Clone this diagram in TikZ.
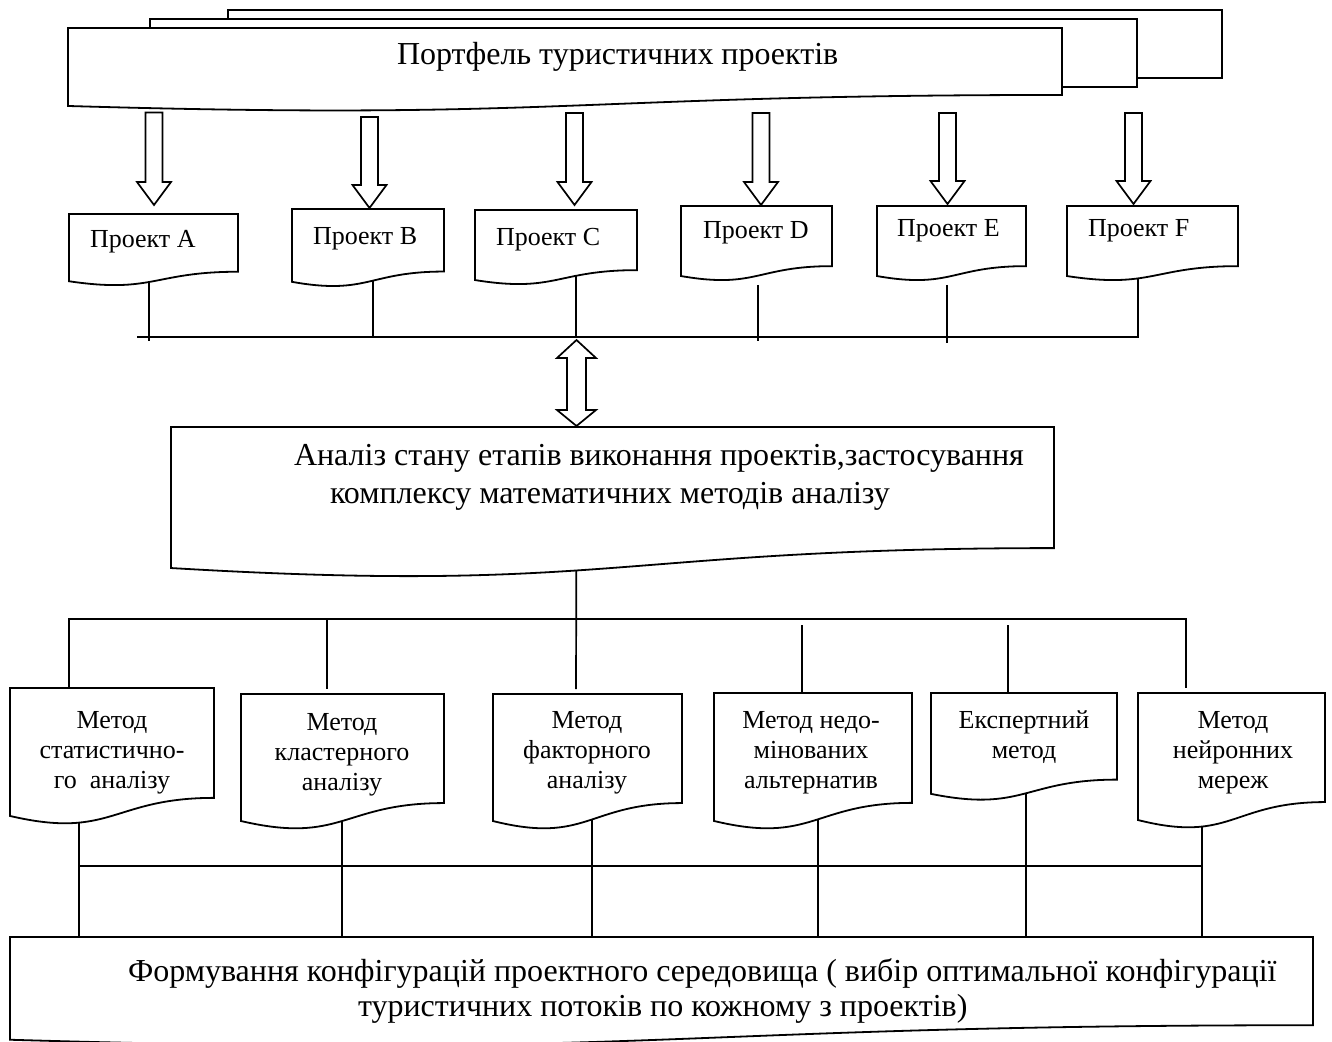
\documentclass[tikz,border=0pt]{standalone}
\usepackage{fontspec}
\setmainfont{Liberation Serif}
\usetikzlibrary{calc}

\tikzset{
  frame/.style={draw=none, inner sep=0pt, outer sep=0pt},
  outline/.style={draw=black, line width=0.9pt, fill=white, line join=miter},
  wire/.style={draw=black, line width=0.85pt},
  hollow/.style={draw=black, line width=0.85pt, fill=white, line join=miter},
  lbl/.style={inner sep=0pt, outer sep=0pt, font=\fontsize{13}{15}\selectfont},
  biglbl/.style={inner sep=0pt, outer sep=0pt, anchor=base west, font=\fontsize{16}{18.4}\selectfont},
  projlbl/.style={lbl, anchor=base west},
  methodlbl/.style={lbl, align=center, anchor=north},
}

% invisible frame node spanning the given corners (pixel units)
\newcommand\frameat[5]{%
  \node[frame, minimum width={(#4-#2)*0.5pt}, minimum height={(#5-#3)*0.5pt}]
    (#1) at ({(#2+#4)/2},{(#3+#5)/2}) {};}

% flowchart "document" outline with a wavy bottom edge
\newcommand\docoutline[1]{%
  \path[outline] let \p1=(#1.north west), \p2=(#1.south east) in
    (\x1,\y1) -- (\x2,\y1) -- (\x2,{\y1+0.802*(\y2-\y1)})
    .. controls ({0.5*(\x1+\x2)},{\y1+0.802*(\y2-\y1)})
            and ({0.5*(\x1+\x2)},{\y1+1.108*(\y2-\y1)}) ..
    (\x1,{\y1+0.934*(\y2-\y1)}) -- cycle;}

\newcommand\rectoutline[1]{\path[outline] (#1.north west) rectangle (#1.south east);}

% hollow block arrow pointing down: #1 tail, #2 tip
\newcommand\hollowdown[2]{%
  \path[hollow] let \p1=#1, \p2=#2 in
    ({\x2-4.25pt},\y1) -- ({\x2+4.25pt},\y1) -- ({\x2+4.25pt},{\y2+11.5pt})
    -- ({\x2+8.5pt},{\y2+11.5pt}) -- (\x2,\y2) -- ({\x2-8.5pt},{\y2+11.5pt})
    -- ({\x2-4.25pt},{\y2+11.5pt}) -- cycle;}

% hollow two-headed block arrow: #1 upper tip, #2 lower tip
\newcommand\hollowboth[2]{%
  \path[hollow] let \p1=#1, \p2=#2 in
    (\x1,\y1) -- ({\x1+9.75pt},{\y1-9pt}) -- ({\x1+4.75pt},{\y1-9pt})
    -- ({\x1+4.75pt},{\y2+8pt}) -- ({\x1+9.75pt},{\y2+8pt}) -- (\x1,\y2)
    -- ({\x1-9.75pt},{\y2+8pt}) -- ({\x1-4.75pt},{\y2+8pt})
    -- ({\x1-4.75pt},{\y1-9pt}) -- ({\x1-9.75pt},{\y1-9pt}) -- cycle;}

\begin{document}
\begin{tikzpicture}[x=0.5pt, y=-0.5pt]
\useasboundingbox (0,0) rectangle (1332,1042);
\clip (0,0) rectangle (1332,1042);

% ---- frames ----
\frameat{pfback}{228}{10}{1222}{78}
\frameat{pfmid}{150}{19}{1137}{87}
\frameat{pf}{68}{28}{1062}{111.5}

\frameat{pA}{69}{214}{238}{286}
\frameat{pB}{292}{209}{444}{287}
\frameat{pC}{475}{210}{637}{285}
\frameat{pD}{681}{206}{832}{281}
\frameat{pE}{877}{206}{1026}{281}
\frameat{pF}{1067}{206}{1238}{281}

\frameat{an}{171}{427}{1054}{578}

\frameat{m1}{10}{688}{214}{825}
\frameat{m2}{241}{694}{444}{830}
\frameat{m3}{493}{694}{682}{830}
\frameat{m4}{714}{693}{912}{830}
\frameat{m5}{931}{693}{1117}{801}
\frameat{m6}{1138}{693}{1325}{829}

\frameat{res}{10}{937}{1313}{1047}

% ---- bus ends ----
\coordinate (pbL) at (137,337);
\coordinate (mbL) at (69,619);
\coordinate (mbR) at (1186,619);
\coordinate (rbL) at (79,866);
\coordinate (rbR) at (1202,866);

% ---- connectors (box fills cover their inner parts) ----
\draw[wire] ($(pF.center)+(-14.5,0)$) |- (pbL);
\draw[wire] ($(pA.center)+(-4.5,0)$) -- ($(pA.center |- pbL)+(-4.5,4)$);
\draw[wire] ($(pB.center)+(5,0)$) -- ($(pB.center |- pbL)+(5,0)$);
\draw[wire] ($(pC.center)+(20,0)$) -- ($(pC.center |- pbL)+(20,0)$);
\draw[wire] ($(pD.south)+(1.5,4)$) -- ($(pD.south |- pbL)+(1.5,4)$);
\draw[wire] ($(pE.south)+(-4.5,4)$) -- ($(pE.south |- pbL)+(-4.5,6)$);

\draw[wire] (m1.north -| mbL) -- (mbL) -- (mbR) -- ($(m6.north -| mbR)+(0,-5)$);
\draw[wire] ($(m2.north |- mbL)+(-15.5,0)$) -- ($(m2.north)+(-15.5,-5)$);
\draw[wire] ($(an.center)+(-36,0)$) -- ($(m3.north)+(-11.5,-5)$);
\draw[wire] ($(m4.north |- mbL)+(-11,6)$) -- ($(m4.north)+(-11,0)$);
\draw[wire] ($(m5.north |- mbL)+(-16,6)$) -- ($(m5.north)+(-16,-1)$);

\draw[wire] (rbL) -- (rbR);
\draw[wire] ($(m1.center)+(-33,0)$) -- (res.north -| rbL);
\draw[wire] ($(m2.center)+(-0.5,0)$) -- ($(res.north -| m2.center)+(-0.5,0)$);
\draw[wire] ($(m3.center)+(4.5,0)$) -- ($(res.north -| m3.center)+(4.5,0)$);
\draw[wire] ($(m4.center)+(5,0)$) -- ($(res.north -| m4.center)+(5,0)$);
\draw[wire] ($(m5.center)+(2,0)$) -- ($(res.north -| m5.center)+(2,0)$);
\draw[wire] ($(m6.center)+(-29.5,0)$) -- (res.north -| rbR);

% ---- shapes ----
\rectoutline{pfback}
\rectoutline{pfmid}
\docoutline{pf}
\foreach \bx in {pA,pB,pC,pD,pE,pF,an,m1,m2,m3,m4,m5,m6,res} {\docoutline{\bx}}

% ---- block arrows ----
\hollowdown{($(pf.south -| pA.north)+(0.5,1)$)}{($(pA.north)+(0.5,-9)$)}
\hollowdown{($(pf.south -| pB.north)+(1.5,5.5)$)}{($(pB.north)+(1.5,-1)$)}
\hollowdown{($(pf.south -| pC.north)+(18.5,1.5)$)}{($(pC.north)+(18.5,-5)$)}
\hollowdown{($(pf.south -| pD.north)+(4.5,1.5)$)}{($(pD.north)+(4.5,-1)$)}
\hollowdown{($(pf.south -| pE.north)+(-4,1.5)$)}{($(pE.north)+(-4,-2)$)}
\hollowdown{($(pf.south -| pF.north)+(-19,1.5)$)}{($(pF.north)+(-19,-2)$)}
\hollowboth{($(an.north |- pbL)+(-36,3)$)}{($(an.north)+(-36,-1)$)}

% ---- texts ----
\node[biglbl] (tPf) at (397,65) {Портфель туристичних проектів};

\node[projlbl] (tA) at (90,248) {Проект A};
\node[projlbl] (tB) at (313,245) {Проект B};
\node[projlbl] (tC) at (496,246) {Проект C};
\node[projlbl] (tD) at (703,239) {Проект D};
\node[projlbl] (tE) at (897,237) {Проект E};
\node[projlbl] (tF) at (1088,237) {Проект F};

\node[biglbl] (tAn1) at (294,466) {Аналіз стану етапів виконання проектів,застосування};
\node[biglbl] (tAn2) at (330,503) {комплексу математичних методів аналізу};

\node[methodlbl] (t1) at (112,707) {\strut Метод\\статистично-\\го\ \ аналізу};
\node[methodlbl] (t2) at (342,709) {\strut Метод\\кластерного\\аналізу};
\node[methodlbl] (t3) at (587,707) {\strut Метод\\факторного\\аналізу};
\node[methodlbl] (t4) at (811,707) {\strut Метод недо-\\мінованих\\альтернатив};
\node[methodlbl] (t5) at (1024,707) {\strut Експертний\\метод};
\node[methodlbl] (t6) at (1233,707) {\strut Метод\\нейронних\\мереж};

\node[biglbl] (tRes1) at (128,981) {Формування конфігурацій проектного середовища ( вибір оптимальної конфігурації};
\node[biglbl] (tRes2) at (358,1016) {туристичних потоків по кожному з проектів)};
\end{tikzpicture}
\end{document}
